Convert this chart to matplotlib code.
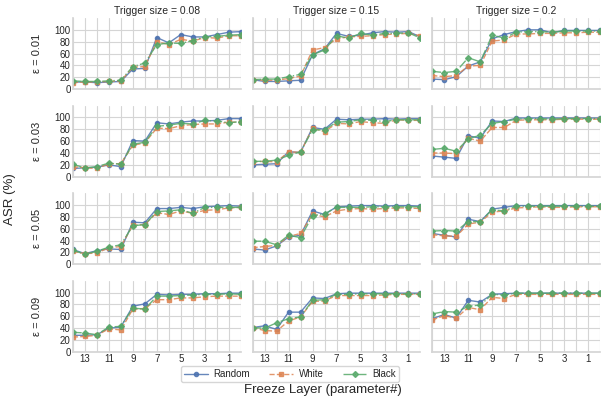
import matplotlib
matplotlib.use("Agg")
import matplotlib.pyplot as plt
import seaborn as sns
import numpy as np

sns.set_theme(style="whitegrid")
plt.rcParams['font.family'] = ['Liberation Sans', 'DejaVu Sans']

layers = list(range(14, -1, -1))
trigger_sizes = ["0.08", "0.15", "0.2"]
epsilons = ["0.01", "0.03", "0.05", "0.09"]
xtick_labels = ["13", "11", "9", "7", "5", "3", "1"]

# rows: epsilon, cols: trigger size; each list has 15 values for layers 14..0
random_vals = [
    [[12, 12, 11, 12, 13, 34, 35, 87, 78, 92, 88, 88, 92, 96, 97],
     [16, 13, 13, 14, 15, 58, 68, 94, 89, 91, 95, 97, 96, 97, 88],
     [17, 16, 21, 39, 46, 85, 92, 97, 100, 100, 95, 99, 99, 99, 99]],
    [[14, 15, 16, 20, 17, 61, 60, 91, 89, 92, 94, 94, 95, 98, 98],
     [20, 21, 22, 42, 41, 83, 80, 97, 96, 97, 97, 98, 97, 98, 98],
     [35, 33, 31, 69, 65, 94, 93, 99, 99, 99, 99, 99, 99, 99, 99]],
    [[25, 18, 23, 26, 25, 71, 70, 94, 94, 96, 94, 97, 98, 99, 98],
     [26, 24, 31, 46, 49, 90, 84, 97, 98, 99, 99, 98, 99, 99, 98],
     [52, 49, 46, 76, 72, 93, 96, 99, 99, 99, 99, 99, 99, 99, 99]],
    [[28, 28, 29, 40, 42, 77, 81, 97, 96, 97, 97, 98, 98, 99, 99],
     [41, 44, 38, 67, 67, 91, 90, 98, 99, 99, 99, 99, 99, 99, 99],
     [56, 63, 57, 87, 84, 97, 98, 99, 99, 99, 99, 99, 99, 99, 99]],
]
white_vals = [
    [[11, 12, 12, 13, 14, 37, 38, 80, 75, 84, 81, 87, 86, 90, 90],
     [16, 15, 15, 18, 22, 66, 70, 85, 88, 89, 90, 92, 93, 94, 90],
     [23, 21, 23, 39, 40, 81, 83, 93, 93, 94, 94, 95, 95, 96, 96]],
    [[17, 15, 14, 22, 22, 53, 57, 82, 81, 86, 88, 89, 89, 92, 92],
     [25, 26, 25, 42, 41, 82, 76, 90, 89, 93, 91, 90, 96, 95, 95],
     [40, 40, 39, 65, 60, 83, 83, 95, 96, 96, 96, 97, 97, 97, 97]],
    [[22, 18, 19, 28, 30, 66, 67, 87, 84, 90, 86, 91, 92, 95, 96],
     [28, 30, 32, 47, 52, 84, 80, 90, 93, 94, 93, 94, 95, 95, 94],
     [50, 48, 47, 68, 71, 88, 90, 95, 96, 97, 96, 96, 97, 97, 97]],
    [[25, 26, 28, 39, 37, 72, 73, 88, 88, 91, 91, 93, 94, 94, 94],
     [41, 36, 35, 52, 59, 85, 86, 95, 95, 95, 95, 96, 97, 97, 97],
     [54, 61, 57, 75, 71, 92, 90, 97, 97, 97, 97, 97, 97, 97, 97]],
]
black_vals = [
    [[14, 13, 13, 14, 15, 38, 44, 75, 78, 77, 82, 88, 89, 91, 92],
     [16, 17, 17, 21, 25, 58, 66, 90, 86, 94, 91, 94, 94, 95, 86],
     [30, 28, 30, 53, 46, 91, 86, 96, 97, 97, 96, 98, 98, 98, 98]],
    [[21, 15, 17, 23, 21, 55, 58, 85, 87, 90, 89, 95, 94, 91, 93],
     [26, 26, 28, 36, 42, 79, 79, 92, 93, 96, 95, 93, 96, 96, 96],
     [46, 48, 43, 64, 70, 90, 93, 97, 98, 98, 97, 98, 98, 98, 98]],
    [[24, 17, 22, 29, 33, 65, 67, 89, 90, 92, 86, 96, 96, 96, 96],
     [39, 39, 33, 49, 45, 82, 85, 96, 96, 96, 97, 97, 97, 97, 97],
     [56, 57, 56, 72, 72, 92, 90, 98, 98, 98, 98, 98, 98, 98, 98]],
    [[33, 32, 29, 42, 43, 74, 72, 94, 94, 95, 96, 97, 97, 98, 97],
     [41, 40, 49, 56, 59, 87, 88, 97, 97, 98, 98, 98, 98, 98, 98],
     [64, 68, 67, 77, 79, 97, 96, 99, 99, 99, 99, 99, 99, 99, 99]],
]

pal = sns.color_palette("deep")
series = [
    ("Random", random_vals, pal[0], "-", "o"),
    ("White", white_vals, pal[1], "--", "s"),
    ("Black", black_vals, pal[2], "-.", "D"),
]

fig, axes = plt.subplots(4, 3, figsize=(6.02, 3.99), dpi=100, sharex=True, sharey=True)
fig.subplots_adjust(left=0.121, right=0.997, top=0.955, bottom=0.118, wspace=0.07, hspace=0.23)

for r in range(4):
    for c in range(3):
        ax = axes[r, c]
        for name, vals, col, ls, mk in series:
            ax.plot(layers, vals[r][c], color=col, linestyle=ls, marker=mk,
                    markersize=3, linewidth=1, alpha=0.85, label=name)
        ax.set_xlim(14, 0)
        ax.set_ylim(0, 120)
        ax.set_yticks([0, 20, 40, 60, 80, 100])
        ax.set_xticks(range(15))
        ax.set_xticklabels(["" if v % 2 == 0 else str(v) for v in range(15)])
        ax.tick_params(labelsize=7, pad=1.5, length=0)
        ax.grid(True, color="#d5d5d5", linewidth=0.8)
        for s in ["top", "right"]:
            ax.spines[s].set_visible(False)
        for s in ["left", "bottom"]:
            ax.spines[s].set_color("#d5d5d5")
        if r == 0:
            ax.set_title(f"Trigger size = {trigger_sizes[c]}", fontsize=7.5, pad=3)
        if c == 0:
            ax.set_ylabel(f"ε = {epsilons[r]}", fontsize=8, labelpad=9)

handles, labels = axes[0, 0].get_legend_handles_labels()
leg = fig.legend(handles, labels, loc="center", ncol=3, fontsize=7,
                 bbox_to_anchor=(290 / 602, 1 - 374 / 399), frameon=True,
                 handlelength=2.4, columnspacing=2.0, handletextpad=0.6, borderpad=0.3)
leg.get_frame().set_edgecolor("#cccccc")
fig.text(323 / 602, 1 - 390 / 399, "Freeze Layer (parameter#)", ha="center", va="center", fontsize=9.5)
fig.text(10 / 602, 200 / 399, "ASR (%)", ha="center", va="center", rotation=90, fontsize=9.5)

fig.savefig("out.png", dpi=100)
